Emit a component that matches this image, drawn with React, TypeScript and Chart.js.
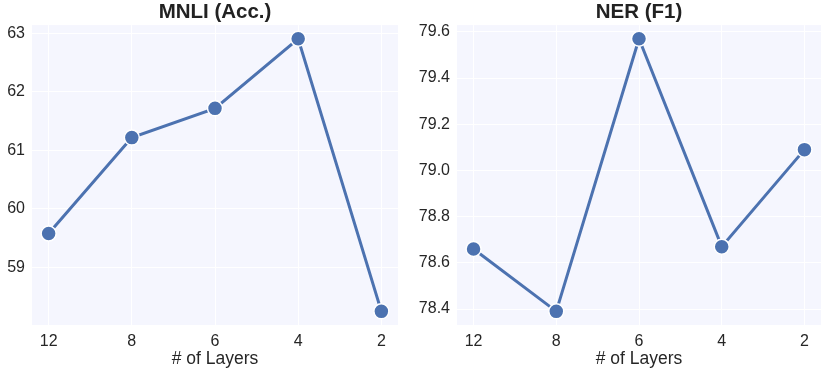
import React, { useEffect, useRef } from "react";
import { Chart, registerables } from "chart.js";

Chart.register(...registerables);

const layerLabels = ["12", "8", "6", "4", "2"];
const mnliValues = [59.58, 61.22, 61.72, 62.91, 58.25];
const nerValues = [78.66, 78.39, 79.57, 78.67, 79.09];
const mnliTicks = [59, 60, 61, 62, 63];
const nerTicks = [78.4, 78.6, 78.8, 79.0, 79.2, 79.4, 79.6];

const FONT = "'Liberation Sans', Arial, sans-serif";
const BLUE = "#4C72B0";
const BG = "#F5F6FE";

const bgPlugin = {
  id: "plotBg",
  beforeDraw(chart: any) {
    const { ctx, chartArea } = chart;
    ctx.save();
    ctx.fillStyle = BG;
    ctx.fillRect(chartArea.left, chartArea.top, chartArea.right - chartArea.left, chartArea.bottom - chartArea.top);
    ctx.restore();
  },
};

function pad(values: number[]) {
  const mn = Math.min(...values);
  const mx = Math.max(...values);
  const m = (mx - mn) * 0.05;
  return { min: mn - m, max: mx + m };
}

function makeConfig(title: string, values: number[], ticks: number[], yWidth: number, rightPad: number, decimals: number) {
  const r = pad(values);
  return {
    type: "line",
    data: {
      datasets: [
        {
          data: values.map((v, i) => ({ x: i, y: v })),
          borderColor: BLUE,
          borderWidth: 3,
          pointRadius: 7.5,
          pointBackgroundColor: BLUE,
          pointBorderColor: "#ffffff",
          pointBorderWidth: 1.5,
          tension: 0,
        },
      ],
    },
    options: {
      responsive: false,
      animation: false,
      layout: { padding: { top: 0, right: rightPad, bottom: 0, left: 0 } },
      plugins: {
        legend: { display: false },
        tooltip: { enabled: false },
        title: {
          display: true,
          text: title,
          fullSize: false,
          color: "#222222",
          font: { family: FONT, size: 20.5, weight: "bold" },
          padding: { top: 0.5, bottom: 0 },
        },
      },
      scales: {
        x: {
          type: "linear",
          min: -0.2,
          max: 4.2,
          afterBuildTicks(scale: any) {
            scale.ticks = layerLabels.map((_, i) => ({ value: i }));
          },
          afterFit(scale: any) {
            scale.height = 48;
          },
          grid: { color: "#ffffff", lineWidth: 1, drawTicks: false },
          border: { display: false },
          ticks: {
            padding: 7,
            color: "#262626",
            font: { family: FONT, size: 16 },
            callback: (v: any) => layerLabels[v] ?? "",
          },
          title: {
            display: true,
            text: "# of Layers",
            color: "#262626",
            font: { family: FONT, size: 17.5 },
            padding: { top: 0, bottom: 3 },
          },
        },
        y: {
          type: "linear",
          min: r.min,
          max: r.max,
          afterBuildTicks(scale: any) {
            scale.ticks = ticks.map((t) => ({ value: t }));
          },
          afterFit(scale: any) {
            scale.width = yWidth;
          },
          grid: { color: "#ffffff", lineWidth: 1, drawTicks: false },
          border: { display: false },
          ticks: {
            padding: 7,
            color: "#262626",
            font: { family: FONT, size: 16 },
            callback: (v: any) => Number(v).toFixed(decimals),
          },
        },
      },
    },
    plugins: [bgPlugin],
  };
}

function Panel({ left, width, cfg }: any) {
  const ref = useRef<HTMLCanvasElement>(null);
  useEffect(() => {
    const chart = new Chart(ref.current as any, cfg as any);
    return () => chart.destroy();
  }, []);
  return (
    <canvas
      ref={ref}
      width={width}
      height={373}
      style={{ position: "absolute", left, top: 0, width, height: 373 }}
    />
  );
}

export default function App() {
  return (
    <div style={{ position: "fixed", left: 0, top: 0, width: 830, height: 373, background: "#ffffff" }}>
      <Panel left={0} width={410} cfg={makeConfig("MNLI (Acc.)", mnliValues, mnliTicks, 32, 12, 0)} />
      <Panel left={410} width={420} cfg={makeConfig("NER (F1)", nerValues, nerTicks, 47, 6, 1)} />
    </div>
  );
}
